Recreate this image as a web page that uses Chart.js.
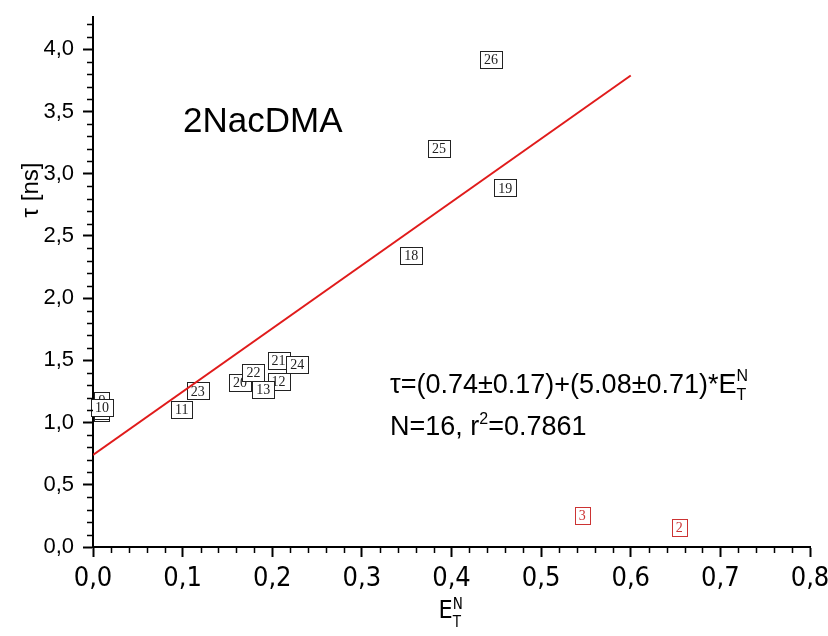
<!DOCTYPE html>
<html>
<head>
<meta charset="utf-8">
<title>2NacDMA</title>
<script src="https://cdn.jsdelivr.net/npm/chart.js@4.4.0/dist/chart.umd.min.js"></script>
<style>
  html, body { margin: 0; padding: 0; background: #fff; }
  #wrap { width: 828px; height: 636px; position: relative; }
</style>
</head>
<body>
<div id="wrap"><canvas id="chart"></canvas></div>
<script>
// values (E_T^N, tau in ns)
const pointLabels = ['7', '8', '9', '10', '11', '23', '20', '22', '12', '13', '21', '24', '18', '25', '19', '26'];
const etnValues   = [0.010, 0.010, 0.010, 0.010, 0.099, 0.117, 0.164, 0.179, 0.207, 0.190, 0.207, 0.228, 0.355, 0.386, 0.460, 0.444];
const tauValues   = [1.078, 1.100, 1.180, 1.124, 1.109, 1.254, 1.323, 1.405, 1.331, 1.269, 1.502, 1.467, 2.344, 3.207, 2.886, 3.918];

// points left out of the fit (red)
const outlierLabels = ['3', '2'];
const outlierEtn    = [0.546, 0.654];
const outlierTau    = [0.251, 0.157];

// fitted line end points
const fitEtn = [0.0, 0.6];
const fitTau = [0.74, 3.79];

const xTicks = [0, 0.1, 0.2, 0.3, 0.4, 0.5, 0.6, 0.7, 0.8];
const yTicks = [0, 0.5, 1.0, 1.5, 2.0, 2.5, 3.0, 3.5, 4.0];
const xMinorStep = 0.02;
const yMinorStep = 0.1;

const BLACK_BOX = '#222';
const RED_BOX = '#cc3333';
const FIT_RED = '#e01b1b';

const SANS = '"Liberation Sans", Arial, sans-serif';
const NARROW = '"Liberation Sans Narrow", "DejaVu Sans Condensed", Arial, sans-serif';

function toPoints(xs, ys) {
    return xs.map((x, i) => ({ x: x, y: ys[i] }));
}

function commaLabel(v) {
    return Number(v).toFixed(1).replace('.', ',');
}

// boxed number labels drawn at each point position
const boxLabelPlugin = {
    id: 'boxLabels',
    afterDatasetDraw(chart, args) {
        const ds = chart.data.datasets[args.index];
        if (!ds.boxLabels) return;
        const ctx = chart.ctx;
        ctx.save();
        ctx.font = '14px "Liberation Serif", "Times New Roman", serif';
        ctx.textAlign = 'center';
        ctx.textBaseline = 'middle';
        args.meta.data.forEach((pt, i) => {
            const txt = ds.boxLabels[i];
            const w = Math.round(ctx.measureText(txt).width) + 8;
            const h = 17;
            const bx = Math.round(pt.x - w / 2) + 0.5;
            const by = Math.round(pt.y - h / 2) + 0.5;
            ctx.fillStyle = '#fff';
            ctx.fillRect(bx, by, w, h);
            ctx.strokeStyle = ds.boxColor;
            ctx.lineWidth = 1;
            ctx.strokeRect(bx, by, w, h);
            ctx.fillStyle = ds.boxColor;
            ctx.fillText(txt, pt.x, pt.y + 1);
        });
        ctx.restore();
    }
};

// small ticks between the labelled ones
const minorTickPlugin = {
    id: 'minorTicks',
    afterDraw(chart) {
        const { ctx, scales: { x, y }, chartArea } = chart;
        ctx.save();
        ctx.strokeStyle = '#000';
        ctx.lineWidth = 1.5;
        ctx.beginPath();
        const nx = Math.round(x.max / xMinorStep);
        for (let i = 1; i < nx; i++) {
            if (i % 5 === 0) continue;
            const px = Math.round(x.getPixelForValue(i * xMinorStep)) + 0.5;
            ctx.moveTo(px, chartArea.bottom);
            ctx.lineTo(px, chartArea.bottom + 6);
        }
        const ny = Math.floor(y.max / yMinorStep + 1e-6);
        for (let i = 1; i <= ny; i++) {
            if (i % 5 === 0) continue;
            const py = Math.round(y.getPixelForValue(i * yMinorStep)) + 0.5;
            ctx.moveTo(chartArea.left, py);
            ctx.lineTo(chartArea.left - 6, py);
        }
        ctx.stroke();
        ctx.restore();
    }
};

// draw a run of text pieces: {t, size, dy, stack}
function drawRich(ctx, parts, x, y, family) {
    let cx = x;
    let lastStart = x;
    let lastWidth = 0;
    parts.forEach(p => {
        ctx.font = p.size + 'px ' + family;
        const start = p.stack ? lastStart : cx;
        ctx.fillText(p.t, start, y + (p.dy || 0));
        const w = ctx.measureText(p.t).width;
        if (p.stack) {
            cx = Math.max(lastStart + lastWidth, start + w);
        } else {
            lastStart = start;
            lastWidth = w;
            cx = start + w;
        }
    });
    return cx;
}

const textPlugin = {
    id: 'annotations',
    afterDraw(chart) {
        const ctx = chart.ctx;
        ctx.save();
        ctx.fillStyle = '#000';
        ctx.textAlign = 'left';
        ctx.textBaseline = 'alphabetic';

        ctx.font = '35px ' + SANS;
        ctx.fillText('2NacDMA', 183, 132);

        drawRich(ctx, [
            { t: 'τ=(0.74±0.17)+(5.08±0.71)*E', size: 27 },
            { t: 'T', size: 16, dy: 7 },
            { t: 'N', size: 16, dy: -12, stack: true }
        ], 390, 393, SANS);

        drawRich(ctx, [
            { t: 'N=16, r', size: 27 },
            { t: '2', size: 16, dy: -11 },
            { t: '=0.7861', size: 27 }
        ], 390, 435, SANS);

        // x axis title
        const cx = (chart.chartArea.left + chart.chartArea.right) / 2;
        drawRich(ctx, [
            { t: 'E', size: 25 },
            { t: 'T', size: 15, dy: 9 },
            { t: 'N', size: 15, dy: -9, stack: true }
        ], cx - 13, 618, NARROW);

        // y axis title
        ctx.translate(30, 190);
        ctx.rotate(-Math.PI / 2);
        ctx.textAlign = 'center';
        ctx.font = '24px ' + SANS;
        ctx.fillText('τ [ns]', 0, 8);
        ctx.restore();
    }
};

new Chart(document.getElementById('chart').getContext('2d'), {
    type: 'scatter',
    data: {
        datasets: [{
            label: 'fit',
            type: 'line',
            data: toPoints(fitEtn, fitTau),
            borderColor: FIT_RED,
            borderWidth: 2,
            pointRadius: 0,
            fill: false,
            order: 0
        }, {
            label: 'fitted points',
            data: toPoints(etnValues, tauValues),
            pointRadius: 0,
            boxLabels: pointLabels,
            boxColor: BLACK_BOX,
            order: 1
        }, {
            label: 'excluded points',
            data: toPoints(outlierEtn, outlierTau),
            pointRadius: 0,
            boxLabels: outlierLabels,
            boxColor: RED_BOX,
            order: 1
        }]
    },
    options: {
        responsive: true,
        maintainAspectRatio: false,
        animation: false,
        layout: { padding: { left: 0, top: 17, right: 18, bottom: 0 } },
        plugins: {
            legend: { display: false },
            tooltip: { enabled: false }
        },
        scales: {
            x: {
                type: 'linear',
                min: 0,
                max: 0.8,
                afterBuildTicks: s => { s.ticks = xTicks.map(v => ({ value: v })); },
                afterFit: s => { s.height = 89; s.paddingLeft = 0; s.paddingRight = 0; },
                border: { color: '#000', width: 2 },
                grid: { drawOnChartArea: false, tickLength: 10, tickColor: '#000', tickWidth: 2 },
                ticks: {
                    color: '#000',
                    font: { family: NARROW, size: 27 },
                    padding: 6,
                    maxRotation: 0,
                    autoSkip: false,
                    callback: v => commaLabel(v)
                }
            },
            y: {
                type: 'linear',
                min: 0,
                max: 4.26,
                afterBuildTicks: s => { s.ticks = yTicks.map(v => ({ value: v })); },
                afterFit: s => { s.width = 93; s.paddingTop = 0; s.paddingBottom = 0; },
                border: { color: '#000', width: 2 },
                grid: { drawOnChartArea: false, tickLength: 10, tickColor: '#000', tickWidth: 2 },
                ticks: {
                    color: '#000',
                    font: { family: SANS, size: 22 },
                    padding: 9,
                    autoSkip: false,
                    callback: v => commaLabel(v)
                }
            }
        }
    },
    plugins: [boxLabelPlugin, minorTickPlugin, textPlugin]
});
</script>
</body>
</html>
